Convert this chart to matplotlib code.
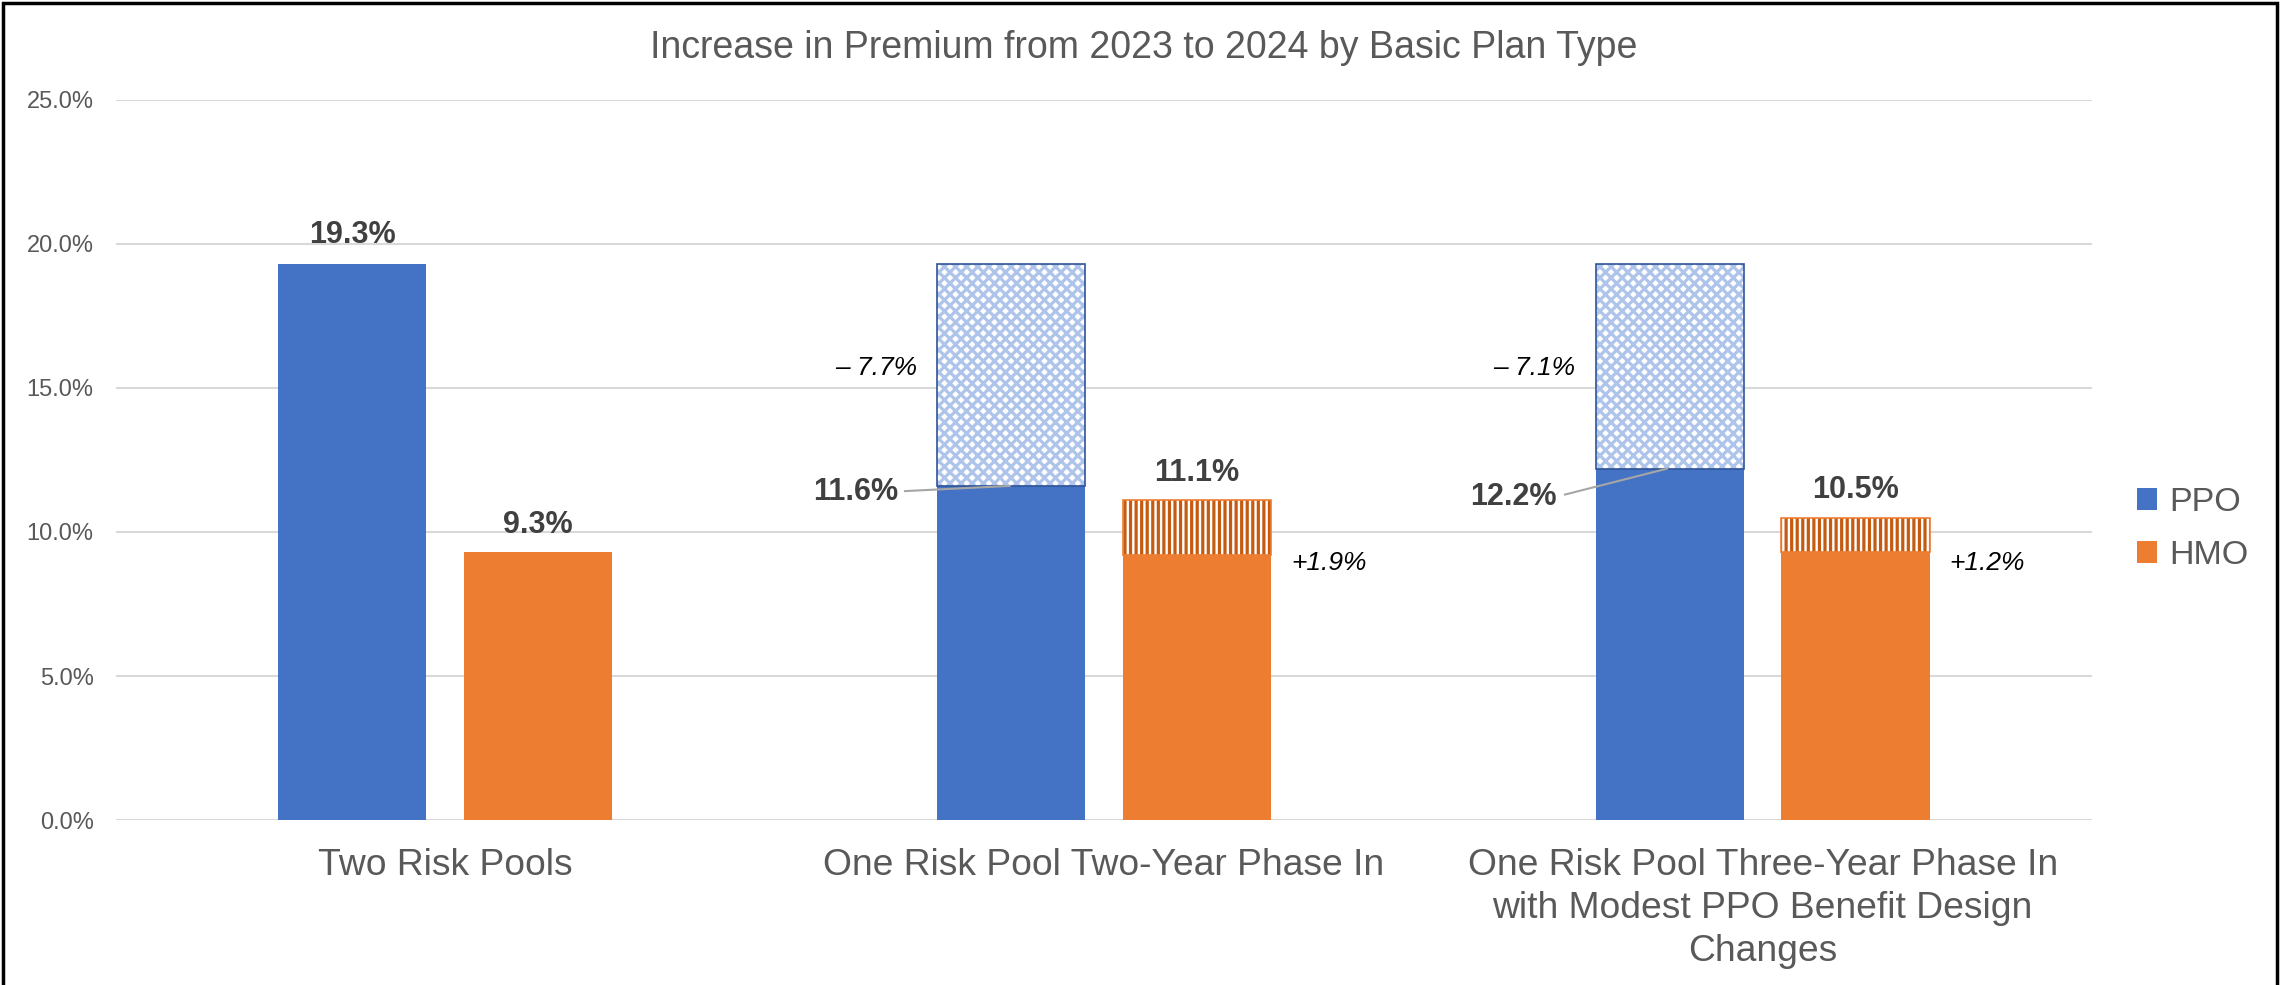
import numpy as np
import matplotlib
matplotlib.use('Agg')
import matplotlib.pyplot as plt
from matplotlib.patches import Patch, Rectangle

plt.rcParams['font.family'] = ['Liberation Sans', 'DejaVu Sans']
plt.rcParams['hatch.linewidth'] = 2.3

categories = ['Two Risk Pools',
              'One Risk Pool Two-Year Phase In',
              'One Risk Pool Three-Year Phase In\nwith Modest PPO Benefit Design\nChanges']
series = ['PPO', 'HMO']

# solid part of each bar and the phase-in change on top of it
ppo_base = [19.3, 11.6, 12.2]
ppo_reduction = [0.0, 7.7, 7.1]
hmo_total = [9.3, 11.1, 10.5]
hmo_increase = [0.0, 1.9, 1.2]
yticks = [0, 5, 10, 15, 20, 25]

blue = '#4472C4'
orange = '#ED7D31'
grey = '#595959'

fig = plt.figure(figsize=(22.82, 9.85), dpi=100)
ax = fig.add_axes([0.0508, 0.1675, 0.8659, 0.731])

x = np.arange(len(categories))
w = 0.225
off = 0.141
hmo_base = np.array(hmo_total) - np.array(hmo_increase)

# PPO
ax.bar(x - off, ppo_base, w, color=blue, zorder=2)
for i in range(len(x)):
    if ppo_reduction[i] > 0:
        ax.bar(x[i] - off, ppo_reduction[i], w, bottom=ppo_base[i], facecolor='white',
               edgecolor='#AFC4EA', hatch='xxx', linewidth=0, zorder=2)
        ax.bar(x[i] - off, ppo_reduction[i], w, bottom=ppo_base[i], fill=False,
               edgecolor='#2F5597', linewidth=1.2, zorder=3)

# HMO
ax.bar(x + off, hmo_base, w, color=orange, zorder=2)
for i in range(len(x)):
    if hmo_increase[i] > 0:
        ax.bar(x[i] + off, hmo_increase[i], w, bottom=hmo_base[i], facecolor='white',
               edgecolor='#C55A11', hatch='|||', linewidth=0, zorder=2)
        ax.bar(x[i] + off, hmo_increase[i], w, bottom=hmo_base[i], fill=False,
               edgecolor=orange, linewidth=1.2, zorder=3)

ax.set_xlim(-0.5, 2.5)
ax.set_ylim(0, 25)
ax.set_yticks(yticks)
ax.set_yticklabels(['%.1f%%' % v for v in yticks], fontsize=17, color=grey)
ax.set_xticks(x)
ax.set_xticklabels(categories, fontsize=26.8, color=grey, linespacing=1.3)
ax.tick_params(axis='both', length=0)
ax.tick_params(axis='y', pad=16)
ax.tick_params(axis='x', pad=20)
ax.grid(axis='y', color='#D9D9D9', linewidth=1.5, zorder=0)
ax.set_axisbelow(True)
for s in ax.spines.values():
    s.set_visible(False)

# data labels
lbl = dict(fontsize=22, fontweight='bold', color='#404040', va='center')
ax.text(x[0] - off, ppo_base[0] + 1.0, '%.1f%%' % ppo_base[0], ha='center', **lbl)
for i in range(len(x)):
    ax.text(x[i] + off, hmo_total[i] + 0.95, '%.1f%%' % hmo_total[i], ha='center', **lbl)

ital = dict(fontsize=19, fontstyle='italic', color='black', va='center')
label_x = [None, 0.687, 1.688]
label_y = [None, 11.39, 11.2]
line_start = [None, (0.698, 11.42), (1.70, 11.3)]
line_end = [None, 0.857, 1.855]
for i in range(1, len(x)):
    ax.text(label_x[i], label_y[i], '%.1f%%' % ppo_base[i], ha='right', **lbl)
    ax.plot([line_start[i][0], line_end[i]], [line_start[i][1], ppo_base[i]],
            color='#A6A6A6', linewidth=1.5, zorder=4)
    ax.text(x[i] - off - 0.143, 15.7, '\u2013 %.1f%%' % ppo_reduction[i], ha='right', **ital)
    ax.text(x[i] + off + 0.143, 8.92, '+%.1f%%' % hmo_increase[i], ha='left', **ital)

# title is centred on the whole figure, not the plot area
ax.set_title('Increase in Premium from 2023 to 2024 by Basic Plan Type',
             fontsize=27, color=grey, pad=30, x=0.520)

handles = [Patch(facecolor=blue), Patch(facecolor=orange)]
fig.legend(handles, series, loc='center left', bbox_to_anchor=(0.923, 0.463),
           frameon=False, fontsize=24.5, labelcolor=grey, handlelength=0.6,
           handleheight=0.6, handletextpad=0.35, labelspacing=0.65)

# outer border
fig.patches.append(Rectangle((0.0015, -0.01), 0.9965, 1.007, transform=fig.transFigure,
                             fill=False, edgecolor='black', linewidth=2.5))

fig.savefig('out.png', dpi=100)
